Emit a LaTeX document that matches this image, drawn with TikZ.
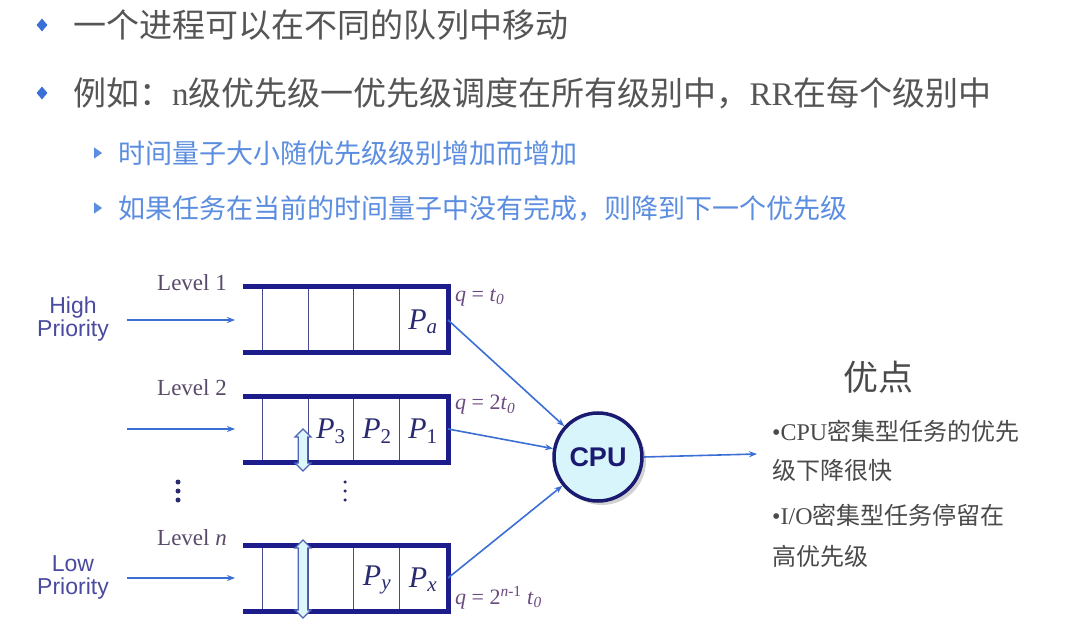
\documentclass[tikz,border=0pt]{standalone}
\usepackage{fontspec}
\setmainfont{Liberation Serif}
\newfontfamily\cjk{Noto Sans CJK SC}
\newfontfamily\arial{Liberation Sans}
\usetikzlibrary{arrows.meta,shapes.arrows,shapes.geometric,shadows}
\definecolor{maintext}{HTML}{555555}
\definecolor{subtext}{HTML}{5B8DE0}
\definecolor{bulletc}{HTML}{3A6FD8}
\definecolor{navyq}{HTML}{1C1C8A}
\definecolor{cellc}{HTML}{4A4A90}
\definecolor{flowc}{HTML}{3B6FD4}
\definecolor{levelc}{HTML}{5A4A6A}
\definecolor{prioc}{HTML}{4A4AA0}
\definecolor{qc}{HTML}{6A4A80}
\definecolor{pc}{HTML}{2A2A70}
\definecolor{cpufill}{HTML}{D8F5FC}
\definecolor{cpuline}{HTML}{1A1A70}
\definecolor{dafill}{HTML}{DDF6FC}
\definecolor{daline}{HTML}{4F63B8}
\definecolor{righttext}{HTML}{4A4A4A}
\begin{document}
\begin{tikzpicture}[x=1pt,y=-1pt,
  qline/.style={draw=navyq, line width=5pt, line join=miter},
  cellline/.style={draw=cellc, line width=0.9pt},
  flow/.style={draw=flowc, line width=1.6pt, -{Stealth[length=8pt,width=6pt]}},
  toptext/.style={anchor=west, inner sep=0pt, text=maintext, font=\cjk\fontsize{33}{33}\selectfont},
  subline/.style={anchor=west, inner sep=0pt, text=subtext, font=\cjk\fontsize{27}{27}\selectfont},
  diam/.style={diamond, fill=bulletc, minimum width=11pt, minimum height=13pt, inner sep=0pt},
  chev/.style={isosceles triangle, isosceles triangle apex angle=70, fill=subtext, minimum width=10pt, minimum height=8pt, inner sep=0pt},
  levellab/.style={inner sep=0pt, text=levelc, font=\fontsize{23}{23}\selectfont},
  priolab/.style={inner sep=0pt, text=prioc, align=center, font=\arial\fontsize{23}{23}\selectfont},
  plab/.style={inner sep=0pt, text=pc, font=\fontsize{30}{30}\selectfont},
  qlab/.style={anchor=west, inner sep=0pt, text=qc, font=\fontsize{22}{22}\selectfont},
  dbl/.style={double arrow, draw=daline, fill=dafill, line width=1.2pt, rotate=90, inner sep=4pt, minimum width=16pt, double arrow head extend=3pt},
  dotc/.style={circle, fill=pc, inner sep=0pt, minimum size=5pt},
  rtext/.style={anchor=west, inner sep=0pt, text=righttext, font=\cjk\fontsize{24}{24}\selectfont}
]
\useasboundingbox[fill=white] (0,0) rectangle (1066,628);

% header bullets
\node[diam] (b1) at (42,25) {};
\node[toptext] (t1) at (73,25) {一个进程可以在不同的队列中移动};
\node[diam] (b2) at (42,93) {};
\node[toptext] (t2) at (73,93) {例如：{\rmfamily n}级优先级一优先级调度在所有级别中，{\rmfamily RR}在每个级别中};
\node[chev] (s1) at (97,153) {};
\node[subline] (t3) at (118,153) {时间量子大小随优先级级别增加而增加};
\node[chev] (s2) at (97,208) {};
\node[subline] (t4) at (118,208) {如果任务在当前的时间量子中没有完成，则降到下一个优先级};

% queues
\foreach \n/\top in {1/287, 2/396, 3/545}{
  \draw[cellline] (262,\top) -- (262,\top+66);
  \draw[cellline] (308,\top) -- (308,\top+66);
  \draw[cellline] (353,\top) -- (353,\top+66);
  \draw[cellline] (399,\top) -- (399,\top+66);
  \draw[qline] (243,\top) -- (448,\top) -- (448,\top+66) -- (243,\top+66);
  \coordinate (qout\n) at (448,\top+33);
  \coordinate (qin\n) at (235,\top+33);
  \coordinate (src\n) at (127,\top+33);
}

% labels
\node[levellab] (lv1) at (192,283) {Level 1};
\node[levellab] (lv2) at (192,388) {Level 2};
\node[levellab] (lvn) at (192,538) {Level \textit{n}};
\node[priolab] (hp) at (73,319) {High\\Priority};
\node[priolab] (lp) at (73,577) {Low\\Priority};

% process labels
\node[plab] (pa) at (423,322) {\textit{P}\textsubscript{\textit{a}}};
\node[plab] (p3) at (331,431) {\textit{P}\textsubscript{3}};
\node[plab] (p2) at (377,431) {\textit{P}\textsubscript{2}};
\node[plab] (p1) at (423,431) {\textit{P}\textsubscript{1}};
\node[plab] (py) at (377,580) {\textit{P}\textsubscript{\textit{y}}};
\node[plab] (px) at (423,580) {\textit{P}\textsubscript{\textit{x}}};

% quantum labels
\node[qlab] (ql1) at (455,298) {\textit{q} = \textit{t}\textsubscript{\textit{0}}};
\node[qlab] (ql2) at (455,405) {\textit{q} = 2\textit{t}\textsubscript{\textit{0}}};
\node[qlab] (qln) at (455,598) {\textit{q} = 2\textsuperscript{\textit{n}-1} \textit{t}\textsubscript{\textit{0}}};

% double arrows
\node[dbl, minimum height=42pt] (da2) at (303,450) {};
\node[dbl, minimum height=78pt] (dan) at (303,579) {};

% vertical dots
\node[dotc] (d1) at (178,482) {};
\node[dotc] (d2) at (178,491) {};
\node[dotc] (d3) at (178,500) {};
\node[dotc, minimum size=3.5pt] (e1) at (345,482) {};
\node[dotc, minimum size=3.5pt] (e2) at (345,491) {};
\node[dotc, minimum size=3.5pt] (e3) at (345,500) {};

% CPU
\node[circle, draw=cpuline, fill=cpufill, line width=3.5pt, minimum size=88pt, inner sep=0pt,
      drop shadow={shadow xshift=4pt, shadow yshift=-4pt, opacity=0.35},
      text=cpuline, font=\arial\bfseries\fontsize{27}{27}\selectfont] (cpu) at (598,457) {CPU};

% flows
\foreach \n in {1,2,3}{ \draw[flow] (src\n) -- (qin\n); }
\draw[flow] (qout1) -- (cpu);
\draw[flow] (qout2) -- (cpu);
\draw[flow] (qout3) -- (cpu);
\coordinate (out) at (757,454);
\draw[flow] (cpu.east) -- (out);

% advantages
\node[inner sep=0pt, text=righttext, font=\cjk\fontsize{35}{35}\selectfont] (adv) at (878,377) {优点};
\node[rtext] (r1) at (772,431) {{\rmfamily •CPU}密集型任务的优先};
\node[rtext] (r2) at (772,470) {级下降很快};
\node[rtext] (r3) at (772,515) {{\rmfamily •I/O}密集型任务停留在};
\node[rtext] (r4) at (772,556) {高优先级};
\end{tikzpicture}
\end{document}
